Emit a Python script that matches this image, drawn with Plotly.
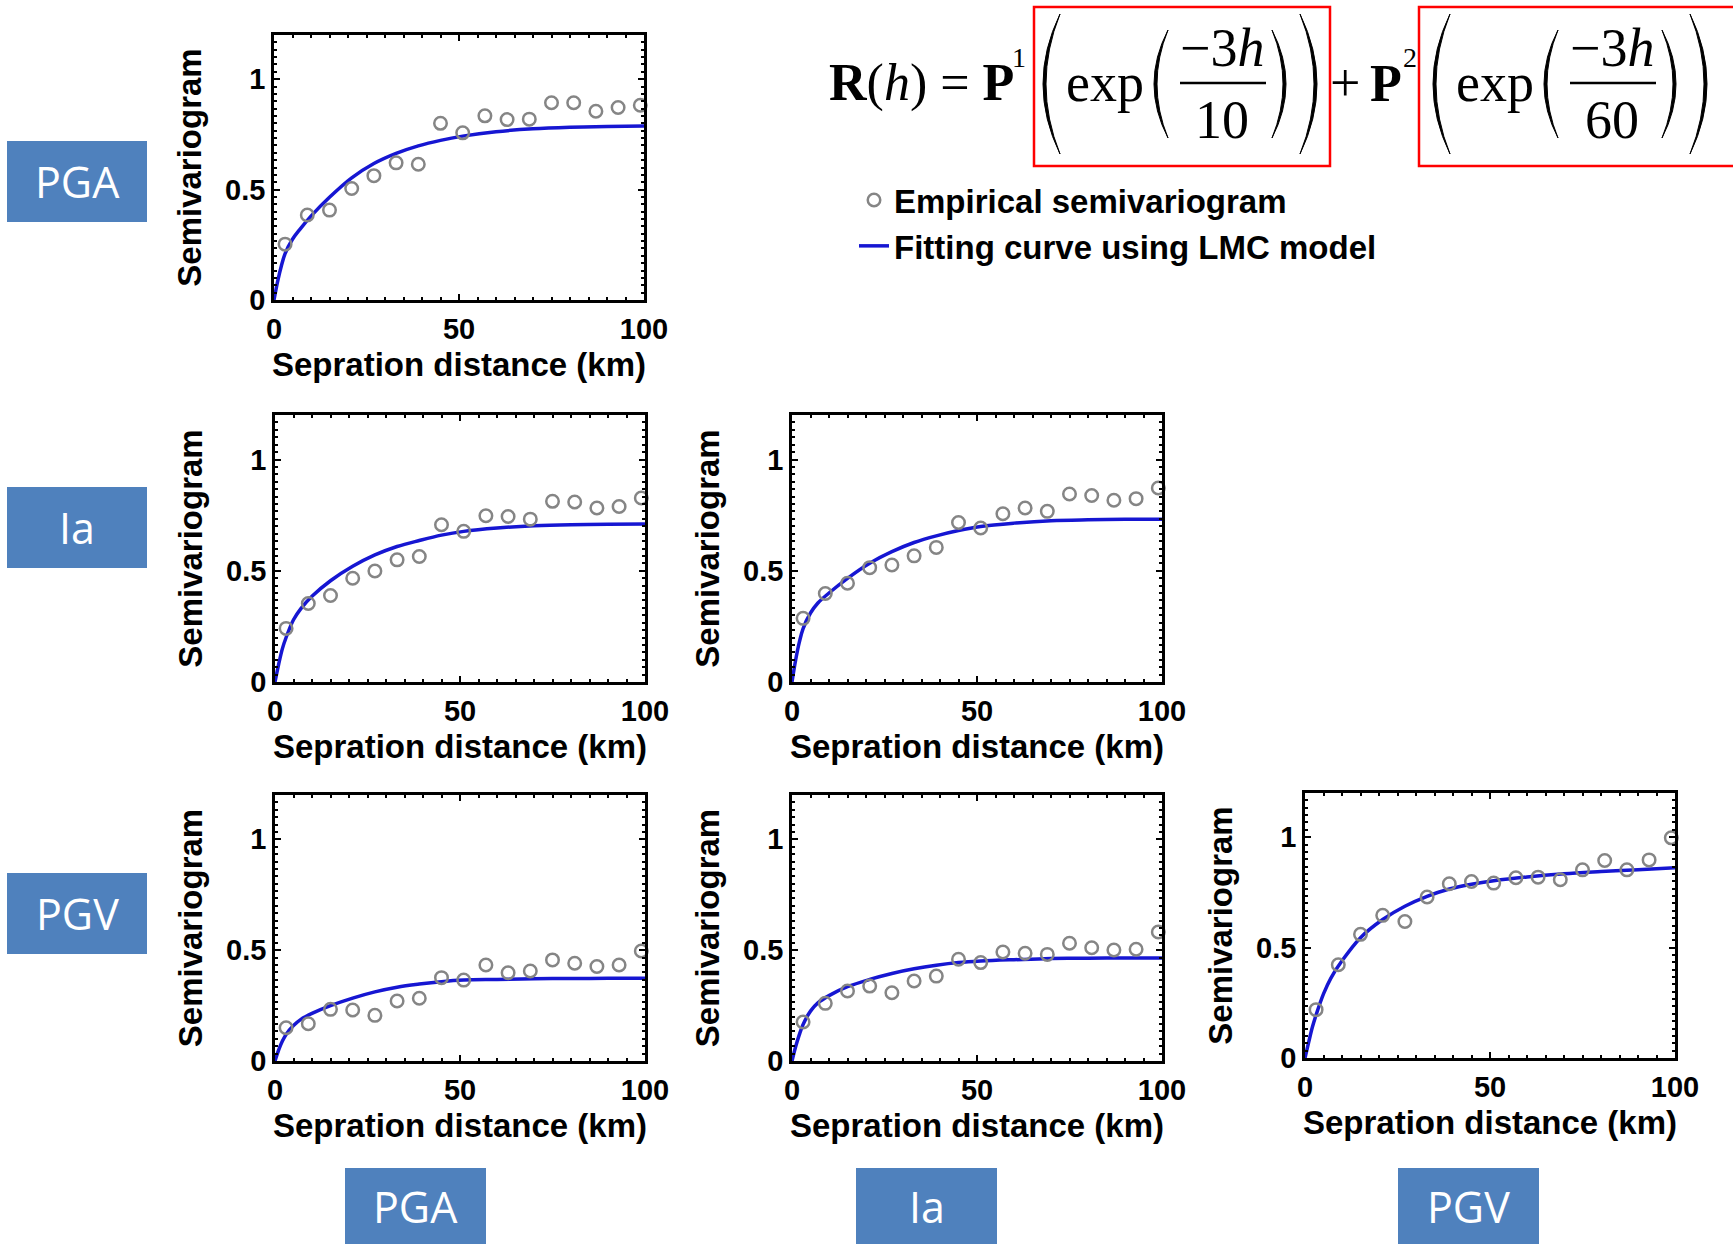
import plotly.graph_objects as go

# ---------------- data ----------------
distance_km = [3, 9, 15, 21, 27, 33, 39, 45, 51, 57, 63, 69, 75, 81, 87, 93, 99]
curve_km = [0, 1, 2, 3, 5, 7, 10, 15, 21, 27, 33, 39, 45, 51, 60, 70, 80, 90, 100]

emp_pga_pga = [0.253, 0.385, 0.407, 0.505, 0.563, 0.621, 0.615, 0.800, 0.757, 0.834, 0.817, 0.819, 0.893, 0.893, 0.855, 0.872, 0.882]
emp_ia_pga = [0.241, 0.353, 0.389, 0.466, 0.499, 0.549, 0.564, 0.707, 0.677, 0.747, 0.744, 0.732, 0.812, 0.809, 0.782, 0.789, 0.827]
emp_ia_ia = [0.286, 0.398, 0.444, 0.514, 0.526, 0.567, 0.605, 0.717, 0.692, 0.756, 0.782, 0.767, 0.845, 0.838, 0.817, 0.824, 0.872]
emp_pgv_pga = [0.150, 0.168, 0.233, 0.230, 0.206, 0.271, 0.283, 0.376, 0.365, 0.433, 0.398, 0.406, 0.456, 0.441, 0.426, 0.433, 0.496]
emp_pgv_ia = [0.176, 0.260, 0.316, 0.338, 0.308, 0.361, 0.383, 0.459, 0.444, 0.492, 0.486, 0.481, 0.531, 0.511, 0.501, 0.504, 0.582]
emp_pgv_pgv = [0.219, 0.422, 0.560, 0.646, 0.618, 0.729, 0.789, 0.799, 0.792, 0.816, 0.819, 0.807, 0.852, 0.894, 0.852, 0.897, 0.997]

fit_pga_pga = [0, 0.085, 0.155, 0.210, 0.275, 0.320, 0.380, 0.465, 0.553, 0.618, 0.664, 0.698, 0.723, 0.742, 0.762, 0.775, 0.782, 0.786, 0.788]
fit_ia_pga = [0, 0.080, 0.150, 0.200, 0.280, 0.330, 0.385, 0.455, 0.520, 0.571, 0.609, 0.636, 0.660, 0.677, 0.692, 0.702, 0.707, 0.709, 0.710]
fit_ia_ia = [0, 0.100, 0.180, 0.240, 0.310, 0.355, 0.400, 0.466, 0.534, 0.586, 0.627, 0.657, 0.681, 0.699, 0.714, 0.725, 0.729, 0.731, 0.732]
fit_pgv_pga = [0, 0.050, 0.090, 0.120, 0.160, 0.188, 0.215, 0.250, 0.284, 0.312, 0.333, 0.347, 0.358, 0.365, 0.368, 0.371, 0.372, 0.373, 0.373]
fit_pgv_ia = [0, 0.065, 0.120, 0.165, 0.225, 0.262, 0.295, 0.335, 0.368, 0.395, 0.416, 0.432, 0.444, 0.451, 0.457, 0.462, 0.464, 0.465, 0.465]
fit_pgv_pgv = [0, 0.072, 0.140, 0.195, 0.290, 0.362, 0.440, 0.545, 0.627, 0.687, 0.732, 0.765, 0.787, 0.803, 0.820, 0.834, 0.844, 0.853, 0.861]

x_ticks = [0, 50, 100]
y_ticks = [0, 0.5, 1]
row_labels = ["PGA", "Ia", "PGV"]
col_labels = ["PGA", "Ia", "PGV"]
legend_names = ["Empirical semivariogram", "Fitting curve using LMC model"]
x_title = "Sepration distance (km)"
y_title = "Semivariogram"

# ---------------- layout geometry (pixels) ----------------
W, H = 1733, 1244

def fx(x):
    return x / W

def fy(y):
    return 1 - y / H

panels = [
    # (empirical, fit, x0, x1, ytop, ybottom)
    (emp_pga_pga, fit_pga_pga, 274, 644, 35, 300),
    (emp_ia_pga, fit_ia_pga, 275, 645, 415, 682),
    (emp_ia_ia, fit_ia_ia, 792, 1162, 415, 682),
    (emp_pgv_pga, fit_pgv_pga, 275, 645, 795, 1061),
    (emp_pgv_ia, fit_pgv_ia, 792, 1162, 795, 1061),
    (emp_pgv_pgv, fit_pgv_pgv, 1305, 1675, 793, 1058),
]

AX_FONT = "Liberation Sans, Arial, sans-serif"
MARKER_COLOR = "#858585"
LINE_COLOR = "#1616d2"

fig = go.Figure()
layout_axes = {}
for i, (emp, fit, x0, x1, yt, yb) in enumerate(panels):
    n = "" if i == 0 else str(i + 1)
    xa, ya = "x" + n, "y" + n
    fig.add_trace(go.Scatter(
        x=curve_km, y=fit, mode="lines", xaxis=xa, yaxis=ya,
        line=dict(color=LINE_COLOR, width=3.5, shape="spline", smoothing=1.0),
        name=legend_names[1], showlegend=(i == 0), legendrank=2,
        cliponaxis=False, hoverinfo="skip"))
    fig.add_trace(go.Scatter(
        x=distance_km, y=emp, mode="markers", xaxis=xa, yaxis=ya,
        marker=dict(symbol="circle-open", size=12.5, color=MARKER_COLOR,
                    line=dict(width=2.5, color=MARKER_COLOR)),
        name=legend_names[0], showlegend=(i == 0), legendrank=1,
        cliponaxis=False))
    common = dict(
        showline=True, linewidth=2.5, linecolor="black", mirror="ticks",
        ticks="inside", ticklen=6, tickwidth=2, tickcolor="black",
        showgrid=False, zeroline=False, automargin=False,
        tickfont=dict(family=AX_FONT, size=29, color="black", weight="bold"),
    )
    layout_axes["xaxis" + n] = dict(
        common, domain=[fx(x0), fx(x1)], anchor=ya, range=[0, 100],
        tickvals=x_ticks, ticklabelstandoff=1,
        minor=dict(dtick=5, tick0=0, ticks="inside", ticklen=3, tickwidth=1.5,
                   tickcolor="black", showgrid=False),
        title=dict(text=x_title, standoff=10,
                   font=dict(family=AX_FONT, size=33, color="black", weight="bold")))
    layout_axes["yaxis" + n] = dict(
        common, domain=[fy(yb), fy(yt)], anchor=xa, range=[0, 1.2],
        tickvals=y_ticks, ticklabelstandoff=0,
        minor=dict(dtick=0.1 / 3, tick0=0, ticks="inside", ticklen=3, tickwidth=1.5,
                   tickcolor="black", showgrid=False),
        title=dict(text=y_title, standoff=14,
                   font=dict(family=AX_FONT, size=33, color="black", weight="bold")))

shapes = []
annotations = []

# ---- row / column label boxes ----
BOX_COLOR = "#4F81BD"
LABEL_FONT = dict(family="Open Sans, sans-serif", size=43, color="white")
row_boxes = [(7, 141, 147, 222), (7, 487, 147, 568), (7, 873, 147, 954)]
col_boxes = [(345, 1168, 486, 1250), (856, 1168, 997, 1250), (1398, 1168, 1539, 1250)]
for lab, (a, b, c, d) in list(zip(row_labels, row_boxes)) + list(zip(col_labels, col_boxes)):
    shapes.append(dict(type="rect", xref="paper", yref="paper", x0=fx(a), x1=fx(c),
                       y0=fy(d), y1=fy(b), fillcolor=BOX_COLOR, line=dict(width=0),
                       layer="below"))
    annotations.append(dict(xref="paper", yref="paper", x=fx((a + c) / 2),
                            y=fy((b + min(d, H)) / 2), text=lab, showarrow=False,
                            xanchor="center", yanchor="middle", font=LABEL_FONT))

# ---- formula ----
SERIF = "Liberation Serif, Times New Roman, serif"
def txt(x, y, s, size, anchor="center"):
    annotations.append(dict(xref="paper", yref="paper", x=fx(x), y=fy(y), text=s,
                            showarrow=False, xanchor=anchor, yanchor="middle",
                            font=dict(family=SERIF, size=size, color="black")))

def paren(x, ytop, ybot, bulge, left=True):
    # crescent-shaped parenthesis
    ym = (ytop + ybot) / 2
    s = -1 if left else 1
    c_out = x + s * 2 * bulge
    c_in = x + s * (2 * bulge - 6)
    path = (f"M {fx(x)},{fy(ytop)} Q {fx(c_out)},{fy(ym)} {fx(x)},{fy(ybot)} "
            f"Q {fx(c_in)},{fy(ym)} {fx(x)},{fy(ytop)} Z")
    shapes.append(dict(type="path", xref="paper", yref="paper", path=path,
                       fillcolor="black", line=dict(color="black", width=1)))

txt(827, 83, "<b>R</b>(<i>h</i>) = <b>P</b>", 52, "left")
txt(1019, 58, "1", 28)
txt(1345, 83, "+", 54)
txt(1386, 83, "<b>P</b>", 52)
txt(1410, 58, "2", 28)

for off, denom, bx0, bx1 in [(0, "10", 1034, 1330), (390, "60", 1419, 1950)]:
    shapes.append(dict(type="rect", xref="paper", yref="paper", x0=fx(bx0), x1=fx(bx1),
                       y0=fy(166), y1=fy(7), line=dict(color="#ff0000", width=2.5)))
    paren(1060 + off, 14, 154, 17, left=True)
    paren(1168 + off, 30, 138, 14, left=True)
    paren(1272 + off, 30, 138, 14, left=False)
    paren(1300 + off, 14, 154, 17, left=False)
    txt(1105 + off, 83, "exp", 54)
    txt(1222 + off, 48, "\u22123<i>h</i>", 54)
    shapes.append(dict(type="line", xref="paper", yref="paper", x0=fx(1180 + off),
                       x1=fx(1266 + off), y0=fy(83), y1=fy(83),
                       line=dict(color="black", width=2.5)))
    txt(1222 + off, 120, denom, 54)

layout_axes.update(dict(
    width=W, height=H, autosize=False,
    margin=dict(l=0, r=0, t=0, b=0, pad=0, autoexpand=False),
    paper_bgcolor="white", plot_bgcolor="white",
    showlegend=True,
    legend=dict(x=fx(854), y=fy(172), xanchor="left", yanchor="top",
                bgcolor="rgba(0,0,0,0)", borderwidth=0, traceorder="normal",
                font=dict(family=AX_FONT, size=33, color="black", weight="bold"),
                itemsizing="trace"),
    shapes=shapes, annotations=annotations,
))
fig.update_layout(**layout_axes)
fig.write_html("out.html")
